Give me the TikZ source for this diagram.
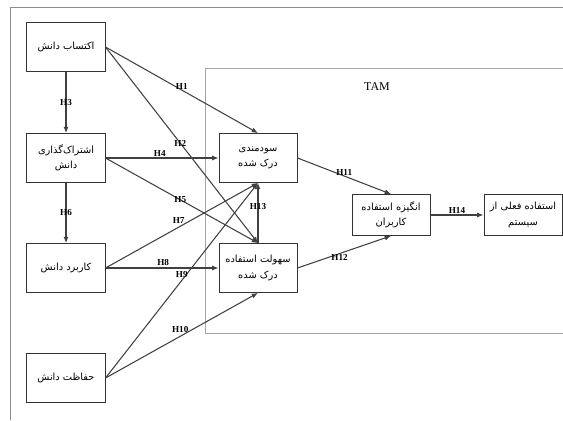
\documentclass[tikz,border=0pt]{standalone}
\usepackage{fontspec}
\setmainfont{Liberation Serif}
\newfontfamily\persian[Script=Arabic]{DejaVu Sans}
\TeXXeTstate=1
\newcommand{\fa}[1]{{\persian\beginR #1\endR}}
\usetikzlibrary{arrows.meta}

\tikzset{
  box/.style={draw=black!80, fill=white, line width=0.7pt, align=center,
    minimum width=1.95cm, minimum height=1.22cm, inner sep=1pt,
    font=\fontsize{7}{11}\selectfont},
  smallbox/.style={box, minimum height=1.02cm},
  hyp/.style={draw=black!75, line width=0.75pt, -{Latex[length=4.5pt,width=3.6pt]}},
  hlab/.style={font=\bfseries\fontsize{6.5}{7}\selectfont, inner sep=1pt}
}

\begin{document}
\begin{tikzpicture}[x=0.025cm, y=-0.025cm]
    \useasboundingbox (0,0) rectangle (563,420);

    % Outer frame and TAM block
    \draw[black!45, line width=0.7pt] (10,420) -- (10,7) -- (563,7);
    \draw[black!35, line width=0.7pt] (563,68) -- (205,68) -- (205,333) -- (563,333);
    \node[font=\fontsize{8.5}{10}\selectfont] (tam) at (377,87) {TAM};

    % Knowledge management boxes
    \node[box] (acq) at (66,47) {\fa{اکتساب دانش}};
    \node[box] (share) at (66,158) {\fa{اشتراک‌گذاری}\\\fa{دانش}};
    \node[box] (apply) at (66,268) {\fa{کاربرد دانش}};
    \node[box] (protect) at (66,378) {\fa{حفاظت دانش}};

    % TAM boxes
    \node[box] (pu) at (258,158) {\fa{سودمندی}\\\fa{درک شده}};
    \node[box] (peou) at (258,268) {\fa{سهولت استفاده}\\\fa{درک شده}};
    \node[smallbox] (intent) at (391,215) {\fa{انگیزه استفاده}\\\fa{کاربران}};
    \node[smallbox] (use) at (523,215) {\fa{استفاده فعلی از}\\\fa{سیستم}};

    % Hypotheses
    \draw[hyp] (acq) -- node[hlab] {H3} (share);
    \draw[hyp] (share) -- node[hlab] {H6} (apply);
    \draw[hyp] (acq.east) -- node[hlab, pos=.5, above=-1pt] {H1} (pu.north);
    \draw[hyp] (acq.east) -- node[hlab, pos=.49] {H2} (peou.north);
    \draw[hyp] (share.east) -- node[hlab, pos=.48, above] {H4} (pu.west);
    \draw[hyp] (share.east) -- node[hlab, pos=.49] {H5} (peou.north);
    \draw[hyp] (apply.east) -- node[hlab, pos=.48, above=1pt] {H7} (pu.south);
    \draw[hyp] (apply.east) -- node[hlab, pos=.51, above] {H8} (peou.west);
    \draw[hyp] (protect.east) -- node[hlab, pos=.5, above=1pt] {H9} (pu.south);
    \draw[hyp] (protect.east) -- node[hlab, pos=.49, above=1pt] {H10} (peou.south);
    \draw[hyp] (peou.north) -- node[hlab, pos=.6] {H13} (pu.south);
    \draw[hyp] (pu.east) -- node[hlab, pos=.5, above=-1pt] {H11} (intent.north);
    \draw[hyp] (peou.east) -- node[hlab, pos=.45, below=-1pt] {H12} (intent.south);
    \draw[hyp] (intent) -- node[hlab, above] {H14} (use);

\end{tikzpicture}
\end{document}
